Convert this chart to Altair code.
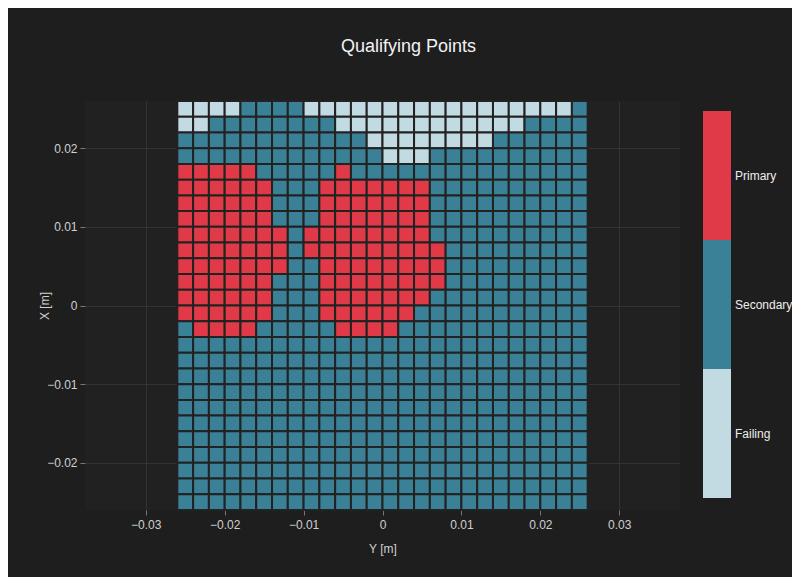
import altair as alt
import pandas as pd

# Cell centres (metres)
col_centers = [-0.025, -0.023, -0.021, -0.019, -0.017, -0.015, -0.013, -0.011, -0.009,
               -0.007, -0.005, -0.003, -0.001, 0.001, 0.003, 0.005, 0.007, 0.009,
               0.011, 0.013, 0.015, 0.017, 0.019, 0.021, 0.023, 0.025]
row_centers = [0.025, 0.023, 0.021, 0.019, 0.017, 0.015, 0.013, 0.011, 0.009,
               0.007, 0.005, 0.003, 0.001, -0.001, -0.003, -0.005, -0.007, -0.009,
               -0.011, -0.013, -0.015, -0.017, -0.019, -0.021, -0.023, -0.025]

# Status grid, top row first (P = Primary, S = Secondary, F = Failing)
grid_rows = [
    "FFFFSSSSFFFFFFFFFFFFFFFFFS",
    "FFSSSSSSSSFFFFFFFFFFFFSSSS",
    "SSSSSSSSSSSSFFFFFFFFSSSSSS",
    "SSSSSSSSSSSSSFFFSSSSSSSSSS",
    "PPPPPSSSSSPSSSSSSSSSSSSSSS",
    "PPPPPPSSSPPPPPPPSSSSSSSSSS",
    "PPPPPPSSSPPPPPPPSSSSSSSSSS",
    "PPPPPPSSSPPPPPPPSSSSSSSSSS",
    "PPPPPPPSPPPPPPPPSSSSSSSSSS",
    "PPPPPPPSPPPPPPPPPSSSSSSSSS",
    "PPPPPPPSSPPPPPPPPSSSSSSSSS",
    "PPPPPPSSSPPPPPPPPSSSSSSSSS",
    "PPPPPPSSSPPPPPPPSSSSSSSSSS",
    "PPPPPPSSSPPPPPPSSSSSSSSSSS",
    "SPPPPSSSSSPPPPSSSSSSSSSSSS",
    "SSSSSSSSSSSSSSSSSSSSSSSSSS",
    "SSSSSSSSSSSSSSSSSSSSSSSSSS",
    "SSSSSSSSSSSSSSSSSSSSSSSSSS",
    "SSSSSSSSSSSSSSSSSSSSSSSSSS",
    "SSSSSSSSSSSSSSSSSSSSSSSSSS",
    "SSSSSSSSSSSSSSSSSSSSSSSSSS",
    "SSSSSSSSSSSSSSSSSSSSSSSSSS",
    "SSSSSSSSSSSSSSSSSSSSSSSSSS",
    "SSSSSSSSSSSSSSSSSSSSSSSSSS",
    "SSSSSSSSSSSSSSSSSSSSSSSSSS",
    "SSSSSSSSSSSSSSSSSSSSSSSSSS",
]

categories = ["Primary", "Secondary", "Failing"]
category_codes = {"P": "Primary", "S": "Secondary", "F": "Failing"}
category_colors = ["#e03a49", "#3a8197", "#c2dae1"]

x_ticks = [-0.03, -0.02, -0.01, 0, 0.01, 0.02, 0.03]
y_ticks = [-0.02, -0.01, 0, 0.01, 0.02]

records = []
for yc, row in zip(row_centers, grid_rows):
    for xc, ch in zip(col_centers, row):
        records.append({"x": xc, "y": yc, "status": category_codes[ch]})
df = pd.DataFrame(records)

half = 0.001
FONT = "Liberation Sans"

chart = (
    alt.Chart(df)
    .transform_calculate(
        x0=f"datum.x - {half}", x1=f"datum.x + {half}",
        y0=f"datum.y - {half}", y1=f"datum.y + {half}",
    )
    .mark_rect(stroke="#222222", strokeWidth=2)
    .encode(
        x=alt.X(
            "x0:Q",
            title="Y [m]",
            scale=alt.Scale(domain=[-0.0377, 0.0377], nice=False, zero=False),
            axis=alt.Axis(values=x_ticks, format=".2~f", labelPadding=4, titlePadding=13),
        ),
        x2="x1:Q",
        y=alt.Y(
            "y0:Q",
            title="X [m]",
            scale=alt.Scale(domain=[-0.026, 0.026], nice=False, zero=False),
            axis=alt.Axis(values=y_ticks, format=".2~f", labelPadding=3, titlePadding=-5),
        ),
        y2="y1:Q",
        color=alt.Color(
            "status:N",
            scale=alt.Scale(domain=categories, range=category_colors),
            legend=alt.Legend(
                title=None,
                orient="none",
                legendX=618,
                legendY=10,
                symbolType="M-1,-4.62H1V4.62H-1Z",
                symbolSize=784,
                symbolStrokeWidth=0,
                symbolOpacity=1,
                clipHeight=129,
                rowPadding=0,
                padding=0,
                symbolOffset=0,
                labelOffset=4,
                labelColor="#eeeeee",
                labelFont=FONT,
                labelFontSize=12,
            ),
        ),
    )
    .properties(
        width=595,
        height=409,
        autosize=alt.AutoSizeParams(type="none"),
        padding={"left": 77, "top": 93, "right": 112, "bottom": 67},
        title=alt.TitleParams(
            "Qualifying Points", fontSize=18, fontWeight="normal", color="#f2f2f2",
            font=FONT, offset=44, dx=26, anchor="middle",
        ),
    )
    .configure(background="#1e1e1e")
    .configure_view(fill="#212121", stroke=None)
    .configure_axis(
        domain=False,
        grid=True,
        gridColor="#333333",
        gridWidth=1,
        tickColor="#777777",
        tickSize=5,
        labelColor="#d0d0d0",
        labelFont=FONT,
        labelFontSize=12,
        titleColor="#d0d0d0",
        titleFont=FONT,
        titleFontSize=12,
        titleFontWeight="normal",
    )
)

chart.save("out.html", embed_options={"renderer": "svg", "actions": False})
